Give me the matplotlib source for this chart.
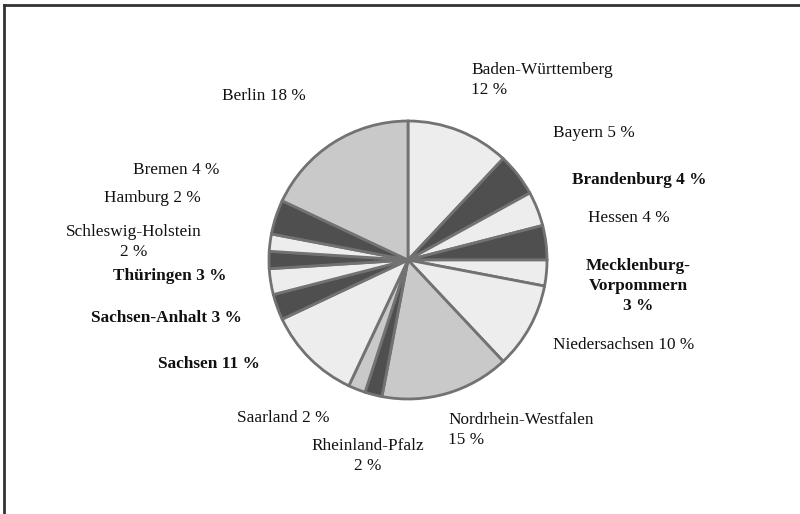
import matplotlib.pyplot as plt
from matplotlib.lines import Line2D

# Anteile der Bundesländer, im Uhrzeigersinn ab 12 Uhr
laender = ["Baden-Württemberg", "Bayern", "Brandenburg", "Hessen",
           "Mecklenburg-Vorpommern", "Niedersachsen", "Nordrhein-Westfalen",
           "Rheinland-Pfalz", "Saarland", "Sachsen", "Sachsen-Anhalt",
           "Thüringen", "Schleswig-Holstein", "Hamburg", "Bremen", "Berlin"]
anteile = [12, 5, 4, 4, 3, 10, 15, 2, 2, 11, 3, 3, 2, 2, 4, 18]
# neue Länder fett beschriftet
neu = ["Brandenburg", "Mecklenburg-Vorpommern", "Sachsen", "Sachsen-Anhalt", "Thüringen"]

# Beschriftungstexte (mit Umbrüchen wie gesetzt)
beschriftung = {
    "Baden-Württemberg": "Baden-Württemberg\n{} %",
    "Mecklenburg-Vorpommern": "Mecklenburg-\nVorpommern\n{} %",
    "Nordrhein-Westfalen": "Nordrhein-Westfalen\n{} %",
    "Rheinland-Pfalz": "Rheinland-Pfalz\n{} %",
    "Schleswig-Holstein": "Schleswig-Holstein\n{} %",
}

HELL, MITTEL, DUNKEL = "#ededed", "#c9c9c9", "#4f4f4f"
farben = [HELL, DUNKEL, HELL, DUNKEL, HELL, HELL, MITTEL, DUNKEL,
          MITTEL, HELL, DUNKEL, HELL, DUNKEL, HELL, DUNKEL, MITTEL]

# Position der Labels in Pixeln (x, y von oben, Ausrichtung)
pos = {
    "Baden-Württemberg": (471, 80, "left"),
    "Bayern": (553, 133, "left"),
    "Brandenburg": (572, 180, "left"),
    "Hessen": (588, 218, "left"),
    "Mecklenburg-Vorpommern": (638, 286, "center"),
    "Niedersachsen": (553, 345, "left"),
    "Nordrhein-Westfalen": (448, 430, "left"),
    "Rheinland-Pfalz": (368, 456, "center"),
    "Saarland": (237, 418, "left"),
    "Sachsen": (158, 364, "left"),
    "Sachsen-Anhalt": (91, 318, "left"),
    "Thüringen": (113, 276, "left"),
    "Schleswig-Holstein": (134, 242, "center"),
    "Hamburg": (104, 198, "left"),
    "Bremen": (133, 170, "left"),
    "Berlin": (222, 96, "left"),
}

W, H = 800, 514
fig = plt.figure(figsize=(8, 5.14), dpi=100)
ax = fig.add_axes([0, 0, 1, 1])
ax.set_xlim(0, W)
ax.set_ylim(0, H)
ax.set_aspect("equal")
ax.axis("off")

ax.pie(anteile, colors=farben, startangle=90, counterclock=False,
       center=(408, H - 260), radius=139,
       wedgeprops=dict(edgecolor="#727272", linewidth=2))
ax.set_xlim(0, W)
ax.set_ylim(0, H)

for land, wert in zip(laender, anteile):
    text = beschriftung.get(land, land + " {} %").format(wert)
    x, y, ha = pos[land]
    ax.text(x, H - y, text, ha=ha, va="center", fontsize=12.4,
            family="Liberation Serif", color="#111111",
            fontweight="bold" if land in neu else "normal",
            multialignment="left" if ha == "left" else "center",
            linespacing=1.35)

# Rahmenlinien oben und links
fig.add_artist(Line2D([4 / W, 4 / W], [0, 1 - 5 / H], color="#333333", lw=2))
fig.add_artist(Line2D([4 / W, 1], [1 - 5 / H, 1 - 5 / H], color="#333333", lw=2))

fig.savefig("out.png", dpi=100, facecolor="white")
